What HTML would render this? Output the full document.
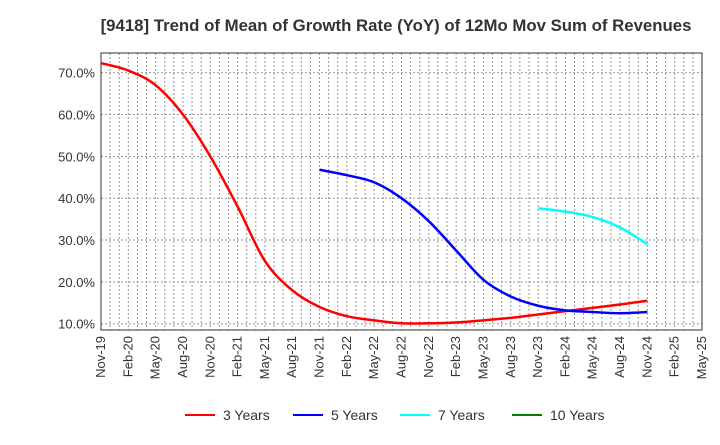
<!DOCTYPE html>
<html><head><meta charset="utf-8"><style>
body{margin:0;background:#fff;font-family:"Liberation Sans",sans-serif}
</style></head><body>
<svg id="chart" width="720" height="440" xmlns="http://www.w3.org/2000/svg">
<text x="396" y="31" text-anchor="middle" font-size="16.8" font-weight="bold" fill="#333">[9418]  Trend of Mean of Growth Rate (YoY) of 12Mo Mov Sum of Revenues</text>
<g id="grid"></g><g id="axes"></g><g id="series"></g><g id="legend"></g>
</svg>
<script>
const xLabels=["Nov-19","Feb-20","May-20","Aug-20","Nov-20","Feb-21","May-21","Aug-21","Nov-21","Feb-22","May-22","Aug-22","Nov-22","Feb-23","May-23","Aug-23","Nov-23","Feb-24","May-24","Aug-24","Nov-24","Feb-25","May-25"];
const yTicks=[10,20,30,40,50,60,70];
const yTickLabels=["10.0%","20.0%","30.0%","40.0%","50.0%","60.0%","70.0%"];
const seriesNames=["3 Years","5 Years","7 Years","10 Years"];
const seriesColors=["#ff0000","#0000ff","#00ffff","#008000"];
const s3Start=0;
const s3=[72.3,70.5,67,60,50,38,25,18,14,11.8,10.8,10.1,10.1,10.3,10.8,11.4,12.2,13,13.8,14.6,15.5];
const s5Start=8;
const s5=[46.8,45.5,43.8,40,34.5,27.5,20.5,16.5,14.3,13.2,12.8,12.5,12.8];
const s7Start=16;
const s7=[37.6,36.8,35.5,33,29];
const s10Start=0;
const s10=[];
const L=101,R=702,T=53,B=330,yMin=8.5,yMax=74.7;
const NS="http://www.w3.org/2000/svg";
const xq=q=>L+(R-L)*q/(xLabels.length-1);
const y=v=>B-(v-yMin)/(yMax-yMin)*(B-T);
function mk(tag,attrs,parent){const e=document.createElementNS(NS,tag);for(const k in attrs)e.setAttribute(k,attrs[k]);parent.appendChild(e);return e;}
const grid=document.getElementById('grid'),axes=document.getElementById('axes'),ser=document.getElementById('series'),leg=document.getElementById('legend');
for(let m=1;m<(xLabels.length-1)*3;m++){const x=xq(m/3);const l=mk('line',{x1:x,x2:x,y1:T,y2:B,stroke:'#999','stroke-dasharray':'2,2','stroke-width':1},grid);

}
yTicks.forEach((v,i)=>{const l=mk('line',{x1:L,x2:R,y1:y(v),y2:y(v),stroke:'#999','stroke-dasharray':'2,2'},grid);


const t=mk('text',{x:L-6,y:y(v)+5,'text-anchor':'end','font-size':13,fill:'#333'},axes);t.textContent=yTickLabels[i];

});
const fr=mk('rect',{x:L,y:T,width:R-L,height:B-T,fill:'none',stroke:'#333'},axes);


xLabels.forEach((s,i)=>{const x=xq(i);const t=mk('text',{x:x+4,y:B+6,'text-anchor':'end','font-size':13,fill:'#333',transform:`rotate(-90 ${x+4} ${B+6})`},axes);t.textContent=s;

});
function path(vals,start){if(vals.length<2)return'';const p=vals.map((v,i)=>[xq(start+i),y(v)]);let d=`M${p[0][0]},${p[0][1]}`;
for(let i=0;i<p.length-1;i++){const p0=p[i-1]||p[i],p1=p[i],p2=p[i+1],p3=p[i+2]||p2;
d+=` C${p1[0]+(p2[0]-p0[0])/6},${p1[1]+(p2[1]-p0[1])/6} ${p2[0]-(p3[0]-p1[0])/6},${p2[1]-(p3[1]-p1[1])/6} ${p2[0]},${p2[1]}`;}return d;}
[[s3,s3Start],[s5,s5Start],[s7,s7Start],[s10,s10Start]].forEach(([v,s],i)=>{if(v.length<2)return;const p=mk('path',{d:path(v,s),fill:'none',stroke:seriesColors[i],'stroke-width':2.5},ser);

});
const lx=[185,293,400,512];
seriesNames.forEach((n,i)=>{const g=mk('g',{},leg);


mk('line',{x1:lx[i],x2:lx[i]+30,y1:415,y2:415,stroke:seriesColors[i],'stroke-width':2},g);
const t=mk('text',{x:lx[i]+38,y:420,'font-size':14,fill:'#333'},g);t.textContent=n;});
</script>
</body></html>
